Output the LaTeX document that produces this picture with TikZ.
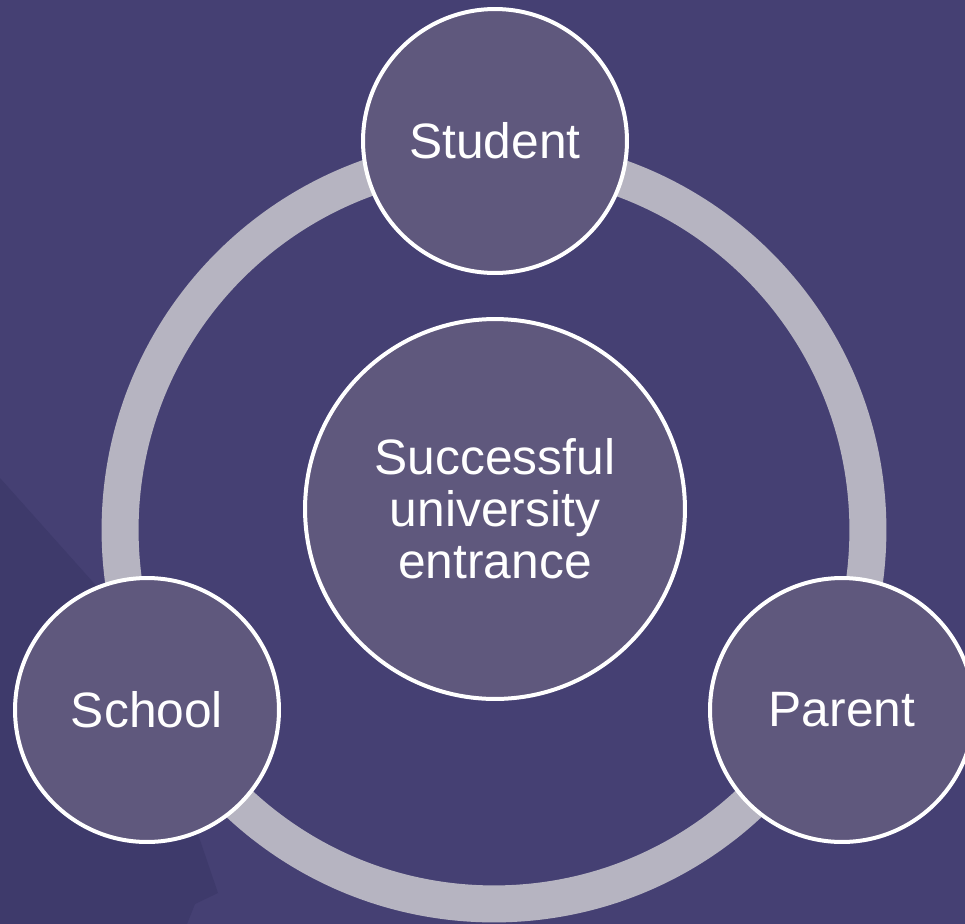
\documentclass[tikz,border=0pt]{standalone}
\usepackage{fontspec}
\setmainfont{Liberation Sans}
\usepackage{tikz}
\definecolor{bgblue}{HTML}{454073}
\definecolor{bgdark}{HTML}{3E3A6B}
\definecolor{ringgrey}{HTML}{B6B4C1}
\definecolor{discfill}{HTML}{5F587D}

\begin{document}
\begin{tikzpicture}[x=0.02cm,y=-0.02cm]
      \tikzstyle{disc}=[circle,draw=white,fill=discfill,line width=0.08cm,text=white,
        font=\fontsize{28.3}{29.6}\selectfont,align=center,inner sep=0pt]
      \fill[bgblue] (0,0) rectangle (965,924);
      \useasboundingbox (0,0) rectangle (965,924);
      % faint shape in the lower left corner
      \fill[bgdark] (0,478) -- (100,590) -- (200,840) -- (218,893) -- (195,904)
        -- (187,924) -- (0,924) -- cycle;
      % ring behind the three partners
      \coordinate (hub) at (494,530);
      \draw[ringgrey,line width=0.74cm] (hub) circle [radius=7.48cm];
      \node[disc,minimum size=5.28cm] (student) at (495,141) {Student};
      \node[disc,minimum size=5.28cm] (school) at (147,710) {School};
      \node[disc,minimum size=5.28cm] (parent) at (842,710) {Parent};
      \node[disc,minimum size=7.6cm] (goal) at (495,509) {Successful\\university\\entrance};
    \end{tikzpicture}
\end{document}
